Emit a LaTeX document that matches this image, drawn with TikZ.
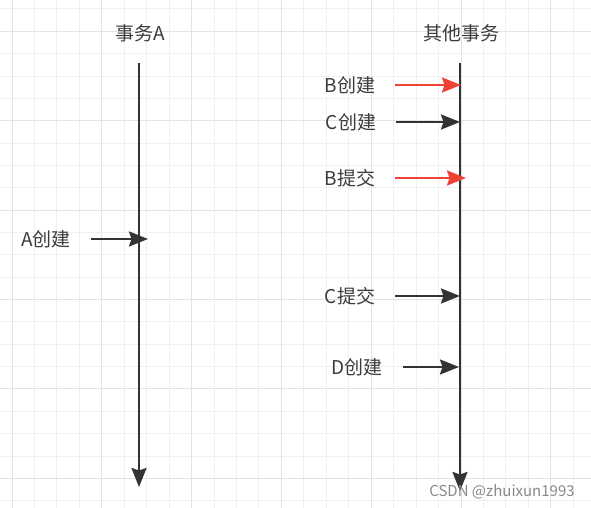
\documentclass[tikz,border=0pt]{standalone}
\usepackage{fontspec}
\setmainfont{Noto Sans CJK SC}
\usepackage{tikz}
\usetikzlibrary{arrows.meta,positioning,calc}

\definecolor{inkgray}{HTML}{333333}
\definecolor{txtgray}{HTML}{3C3C3C}
\definecolor{evred}{HTML}{F04136}
\definecolor{gridminor}{HTML}{F0F0F0}
\definecolor{gridmajor}{HTML}{E3E3E3}
\definecolor{markgray}{HTML}{8A8A8A}

\tikzset{
    lbl/.style={font=\fontsize{19}{21}\selectfont, text=txtgray, inner sep=0pt},
    tip/.style={-{Stealth[length=19pt,width=15pt,inset=2.5pt]}},
    life/.style={draw=inkgray, line width=2.4pt, tip},
    evblack/.style={draw=inkgray, line width=2.4pt, tip, shorten <=20pt},
    evred/.style={draw=evred, line width=2.4pt, tip, shorten <=20pt}
}

\begin{document}
\begin{tikzpicture}[x=1pt, y=-1pt]
    \useasboundingbox (0,0) rectangle (591,508);
    \fill[white] (0,0) rectangle (591,508);

    % Background grid
    \foreach \i in {0,...,26}
        \draw[gridminor, line width=1pt] ({12+22.45*\i},0) -- ++(0,508);
    \foreach \i in {0,...,22}
        \draw[gridminor, line width=1pt] (0,{9+22.35*\i}) -- ++(591,0);
    \foreach \i in {0,...,6}
        \draw[gridmajor, line width=1pt] ({12+89.8*\i},0) -- ++(0,508);
    \foreach \i in {0,...,5}
        \draw[gridmajor, line width=1pt] (0,{31.35+89.4*\i}) -- ++(591,0);

    % Lifelines
    \node[lbl] (headA) at (140,33) {事务A};
    \node[lbl] (headO) at (461,33) {其他事务};
    \coordinate (topA) at (139,63);
    \coordinate (botA) at (139,487);
    \coordinate (topO) at (460,63);
    \coordinate (botO) at (460,491);
    \draw[life] (topA) -- (botA);
    \draw[life] (topO) -- (botO);

    % Events
    \foreach \nm/\x/\y/\ex/\txt/\sty in {bc/350/85/461/B创建/evred,
                                        cc/351/122/460/C创建/evblack,
                                        bt/350/178/466/B提交/evred,
                                        ac/46/239/148/A创建/evblack,
                                        ct/350/296/460/C提交/evblack,
                                        dc/357/367/459/D创建/evblack}
    {
        \node[lbl] (\nm) at (\x,\y) {\txt};
        \coordinate (\nm end) at (\ex,\y);
        \draw[\sty] (\nm.east) -- (\nm end);
    }

    % Watermark
    \node[font=\fontsize{15}{17}\selectfont, text=markgray, inner sep=0pt] (mark) at (502,492) {CSDN @zhuixun1993};
\end{tikzpicture}
\end{document}
